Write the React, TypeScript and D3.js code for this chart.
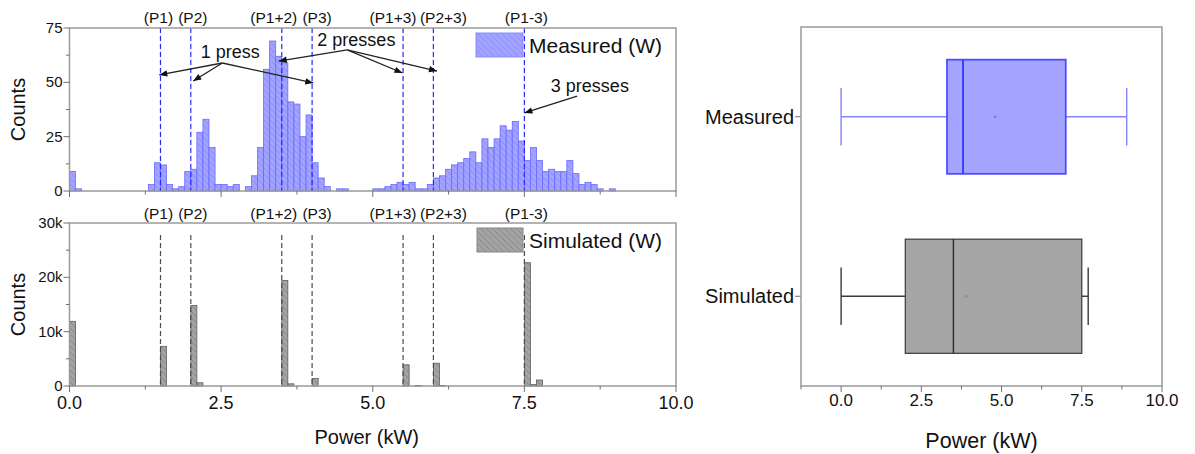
import React from 'react';
import * as d3 from 'd3';

// ---------------- DATA ----------------
const binWidth = 0.1; // kW
const measuredCounts = [
  9, 1, 0, 0, 0, 0, 0, 0, 0, 0,
  0, 0, 0, 3, 13, 12, 3, 1, 2, 9,
  10, 27, 33, 20, 3, 3, 2, 3, 0, 2,
  7, 20, 56, 69, 62, 59, 41, 40, 25, 35,
  13, 6, 2, 0, 1, 1, 0, 0, 0, 0,
  1, 1, 2, 3, 4, 3, 4, 1, 1, 3,
  6, 7, 10, 12, 13, 15, 18, 13, 24, 20,
  24, 30, 28, 32, 23, 14, 20, 14, 9, 10,
  9, 9, 14, 8, 3, 4, 3, 1, 0, 1,
  0, 0, 0, 0, 0, 0, 0, 0, 0, 0,
];
const simulatedBinStarts = [0.0, 1.5, 2.0, 2.1, 3.5, 3.6, 4.0, 5.5, 5.7, 6.0, 6.1, 7.5, 7.6, 7.7];
const simulatedCounts = [11900, 7300, 14800, 600, 19400, 400, 1400, 3900, 100, 4200, 100, 22700, 250, 1100];

const xTicks = [0, 2.5, 5, 7.5, 10];
const xTickLabels = ['0.0', '2.5', '5.0', '7.5', '10.0'];
const xMinorTicks = [1.25, 3.75, 6.25, 8.75];
const topYTicks = [0, 25, 50, 75];
const topYMinor = [12.5, 37.5, 62.5];
const botYTicks = [0, 10000, 20000, 30000];
const botYTickLabels = ['0', '10k', '20k', '30k'];
const botYMinor = [5000, 15000, 25000];

const peakLabels = ['(P1)', '(P2)', '(P1+2)', '(P3)', '(P1+3)', '(P2+3)', '(P1-3)'];
const peakPositions = [1.5, 2.0, 3.5, 4.0, 5.5, 6.0, 7.5];

const pressTexts = ['1 press', '2 presses', '3 presses'];
const pressTextX = [2.65, 4.73, 8.58];
const pressTextY = [61.2, 66.7, 45.6];
const arrowOrigins: [number, number][] = [[2.52, 58.9], [4.58, 64.9], [8.37, 43.6]];
const arrowTargets: [number, number][][] = [
  [[1.48, 53.4], [2.04, 50.6], [4.02, 49.7]],
  [[3.45, 59.8], [5.49, 54.3], [6.06, 55.2]],
  [[7.5, 35.9]],
];

const boxCategories = ['Measured', 'Simulated'];
const boxWhiskerLow = [0, 0];
const boxQ1 = [3.3, 2.0];
const boxMedian = [3.8, 3.5];
const boxQ3 = [7.0, 7.5];
const boxWhiskerHigh = [8.9, 7.7];
const boxMean = [4.8, 3.9];
const boxXTicks = [0, 2.5, 5, 7.5, 10];
const boxXTickLabels = ['0.0', '2.5', '5.0', '7.5', '10.0'];
const boxXMinor = [-1.25, 1.25, 3.75, 6.25, 8.75];

// ---------------- STYLE / LAYOUT ----------------
const W = 1195;
const H = 454;
const FONT = "'Liberation Sans', Arial, Helvetica, sans-serif";
const FRAME = '#9a9a9a';
const TICK = '#707070';
const peakLabelShift = [-2, 2, -8, 5, -10, 10, 2];

const left = 69.5, right = 676;
const topP = { top: 28, bottom: 191 };
const botP = { top: 223, bottom: 386 };
const boxP = { left: 801, right: 1162, top: 27, bottom: 386 };

export default function App() {
  const x = d3.scaleLinear().domain([0, 10]).range([left, right]);
  const yT = d3.scaleLinear().domain([0, 75]).range([topP.bottom, topP.top]);
  const yB = d3.scaleLinear().domain([0, 30000]).range([botP.bottom, botP.top]);
  const bx = d3.scaleLinear().domain([-1.25, 10]).range([boxP.left, boxP.right]);
  const by = d3.scalePoint().domain(boxCategories).range([boxP.top, boxP.bottom]).padding(0.5);
  const step = by.step();
  const boxHalf = step * 0.318;
  const capHalf = step * 0.16;

  const boxColors = [
    { fill: '#a4a4ff', stroke: '#4d4dff', median: '#3535ff', whisker: '#8484ff', mean: '#7070ff' },
    { fill: '#a6a6a6', stroke: '#3a3a3a', median: '#2a2a2a', whisker: '#3a3a3a', mean: '#8a8a8a' },
  ];

  const xAxis = (panel: { top: number; bottom: number }) => (
    <g>
      {xTicks.map((t) => (
        <line key={'M' + t} x1={x(t)} x2={x(t)} y1={panel.bottom} y2={panel.bottom + 6} stroke={TICK} strokeWidth={1} />
      ))}
      {xMinorTicks.map((t) => (
        <line key={'m' + t} x1={x(t)} x2={x(t)} y1={panel.bottom} y2={panel.bottom + 3.5} stroke={TICK} strokeWidth={1} />
      ))}
    </g>
  );

  return (
    <svg width={W} height={H} style={{ position: 'absolute', left: 0, top: 0, background: '#fff' }} fontFamily={FONT}>
      <defs>
        <pattern id="hatchBlue" patternUnits="userSpaceOnUse" width="6" height="6">
          <rect width="6" height="6" fill="#a2a2ff" />
          <path d="M-1,-1 L7,7 M-1,5 L1,7 M5,-1 L7,1" stroke="#8585f6" strokeWidth="0.7" />
        </pattern>
        <pattern id="hatchGrey" patternUnits="userSpaceOnUse" width="6" height="6">
          <rect width="6" height="6" fill="#a3a3a3" />
          <path d="M-1,-1 L7,7 M-1,5 L1,7 M5,-1 L7,1" stroke="#7c7c7c" strokeWidth="0.7" />
        </pattern>
        <marker id="arrowHead" viewBox="0 0 10 10" refX="10" refY="5" markerWidth="9" markerHeight="8" markerUnits="userSpaceOnUse" orient="auto">
          <path d="M0,1 L10,5 L0,9 z" fill="#111" />
        </marker>
      </defs>

      {/* ---------- TOP PANEL: Measured ---------- */}
      <g>
        {measuredCounts.map((c, i) =>
          c > 0 ? (
            <rect
              key={i}
              x={x(i * binWidth)}
              y={yT(c)}
              width={x((i + 1) * binWidth) - x(i * binWidth)}
              height={yT(0) - yT(c)}
              fill="url(#hatchBlue)"
              stroke="#6a6aff"
              strokeWidth={0.8}
            />
          ) : null
        )}
        {peakPositions.map((p, i) => (
          <line key={i} x1={x(p)} x2={x(p)} y1={topP.top} y2={topP.bottom} stroke="#2626ff" strokeWidth={1.2} strokeDasharray="5,3" />
        ))}
        {peakLabels.map((l, i) => (
          <text key={i} x={x(peakPositions[i]) + peakLabelShift[i]} y={23} textAnchor="middle" fontSize={15.5} fill="#111">{l}</text>
        ))}
        <rect x={left} y={topP.top} width={right - left} height={topP.bottom - topP.top} fill="none" stroke={FRAME} strokeWidth={1.5} />
        {xAxis(topP)}
        {topYTicks.map((t) => (
          <g key={t}>
            <line x1={left - 6} x2={left} y1={yT(t)} y2={yT(t)} stroke={TICK} />
            <text x={left - 7} y={yT(t) + 5} textAnchor="end" fontSize={15} fill="#111">{t}</text>
          </g>
        ))}
        {topYMinor.map((t) => (
          <line key={t} x1={left - 3.5} x2={left} y1={yT(t)} y2={yT(t)} stroke={TICK} />
        ))}
        <text transform={`translate(25,${(topP.top + topP.bottom) / 2}) rotate(-90)`} textAnchor="middle" fontSize={20} fill="#111">Counts</text>

        {/* annotations */}
        {pressTexts.map((t, i) => (
          <text key={t} x={x(pressTextX[i])} y={yT(pressTextY[i])} textAnchor="middle" fontSize={18} fill="#111">{t}</text>
        ))}
        {arrowTargets.map((targets, g) =>
          targets.map((tg, j) => (
            <line
              key={g + '-' + j}
              x1={x(arrowOrigins[g][0])}
              y1={yT(arrowOrigins[g][1])}
              x2={x(tg[0])}
              y2={yT(tg[1])}
              stroke="#222"
              strokeWidth={1.3}
              markerEnd="url(#arrowHead)"
            />
          ))
        )}

        {/* legend */}
        <rect x={476} y={33} width={47} height={24} fill="url(#hatchBlue)" stroke="#8a8aff" strokeWidth={1} />
        <text x={529} y={53} fontSize={21} fill="#111">Measured (W)</text>
      </g>

      {/* ---------- BOTTOM PANEL: Simulated ---------- */}
      <g>
        {simulatedCounts.map((c, i) => (
          <rect
            key={i}
            x={x(simulatedBinStarts[i])}
            y={yB(c)}
            width={x(simulatedBinStarts[i] + binWidth) - x(simulatedBinStarts[i])}
            height={yB(0) - yB(c)}
            fill="url(#hatchGrey)"
            stroke="#5e5e5e"
            strokeWidth={0.8}
          />
        ))}
        {peakPositions.map((p, i) => (
          <line
            key={i}
            x1={x(p)}
            x2={x(p)}
            y1={botP.top + 12}
            y2={botP.bottom}
            stroke="#4a4a4a"
            strokeWidth={1.2}
            strokeDasharray="5,3"
          />
        ))}
        {peakLabels.map((l, i) => (
          <text key={i} x={x(peakPositions[i]) + peakLabelShift[i]} y={219} textAnchor="middle" fontSize={15.5} fill="#111">{l}</text>
        ))}
        <rect x={left} y={botP.top} width={right - left} height={botP.bottom - botP.top} fill="none" stroke={FRAME} strokeWidth={1.5} />
        {xAxis(botP)}
        {xTicks.map((t, i) => (
          <text key={t} x={x(t)} y={409} textAnchor="middle" fontSize={18} fill="#111">{xTickLabels[i]}</text>
        ))}
        {botYTicks.map((t, i) => (
          <g key={t}>
            <line x1={left - 6} x2={left} y1={yB(t)} y2={yB(t)} stroke={TICK} />
            <text x={left - 7} y={yB(t) + 5} textAnchor="end" fontSize={15} fill="#111">{botYTickLabels[i]}</text>
          </g>
        ))}
        {botYMinor.map((t) => (
          <line key={t} x1={left - 3.5} x2={left} y1={yB(t)} y2={yB(t)} stroke={TICK} />
        ))}
        <text transform={`translate(25,${(botP.top + botP.bottom) / 2}) rotate(-90)`} textAnchor="middle" fontSize={20} fill="#111">Counts</text>
        <text x={(left + right) / 2 - 6} y={444} textAnchor="middle" fontSize={20} fill="#111">Power (kW)</text>

        <rect x={477} y={228} width={46} height={24} fill="url(#hatchGrey)" stroke="#888" strokeWidth={1} />
        <text x={529} y={248} fontSize={21} fill="#111">Simulated (W)</text>
      </g>

      {/* ---------- BOX PLOT ---------- */}
      <g>
        {boxCategories.map((cat, i) => {
          const cy = by(cat) as number;
          const col = boxColors[i];
          return (
            <g key={cat}>
              <line x1={bx(boxWhiskerLow[i])} x2={bx(boxQ1[i])} y1={cy} y2={cy} stroke={col.whisker} strokeWidth={1.4} />
              <line x1={bx(boxQ3[i])} x2={bx(boxWhiskerHigh[i])} y1={cy} y2={cy} stroke={col.whisker} strokeWidth={1.4} />
              <line x1={bx(boxWhiskerLow[i])} x2={bx(boxWhiskerLow[i])} y1={cy - capHalf} y2={cy + capHalf} stroke={col.whisker} strokeWidth={1.4} />
              <line x1={bx(boxWhiskerHigh[i])} x2={bx(boxWhiskerHigh[i])} y1={cy - capHalf} y2={cy + capHalf} stroke={col.whisker} strokeWidth={1.4} />
              <rect
                x={bx(boxQ1[i])}
                y={cy - boxHalf}
                width={bx(boxQ3[i]) - bx(boxQ1[i])}
                height={boxHalf * 2}
                fill={col.fill}
                stroke={col.stroke}
                strokeWidth={i === 0 ? 1.8 : 1.2}
              />
              <line x1={bx(boxMedian[i])} x2={bx(boxMedian[i])} y1={cy - boxHalf} y2={cy + boxHalf} stroke={col.median} strokeWidth={i === 0 ? 1.8 : 1.4} />
              <circle cx={bx(boxMean[i])} cy={cy} r={1.2} fill={col.mean} />
              <line x1={boxP.left - 6} x2={boxP.left} y1={cy} y2={cy} stroke={TICK} />
              <text x={boxP.left - 7} y={cy + 7} textAnchor="end" fontSize={20} fill="#111">{cat}</text>
            </g>
          );
        })}
        <rect x={boxP.left} y={boxP.top} width={boxP.right - boxP.left} height={boxP.bottom - boxP.top} fill="none" stroke={FRAME} strokeWidth={1.5} />
        {boxXTicks.map((t, i) => (
          <g key={t}>
            <line x1={bx(t)} x2={bx(t)} y1={boxP.bottom} y2={boxP.bottom + 6} stroke={TICK} />
            <text x={bx(t)} y={406} textAnchor="middle" fontSize={17} fill="#111">{boxXTickLabels[i]}</text>
          </g>
        ))}
        {boxXMinor.map((t) => (
          <line key={t} x1={bx(t)} x2={bx(t)} y1={boxP.bottom} y2={boxP.bottom + 3.5} stroke={TICK} />
        ))}
        <text x={(boxP.left + boxP.right) / 2} y={448} textAnchor="middle" fontSize={21.5} fill="#111">Power (kW)</text>
      </g>
    </svg>
  );
}
